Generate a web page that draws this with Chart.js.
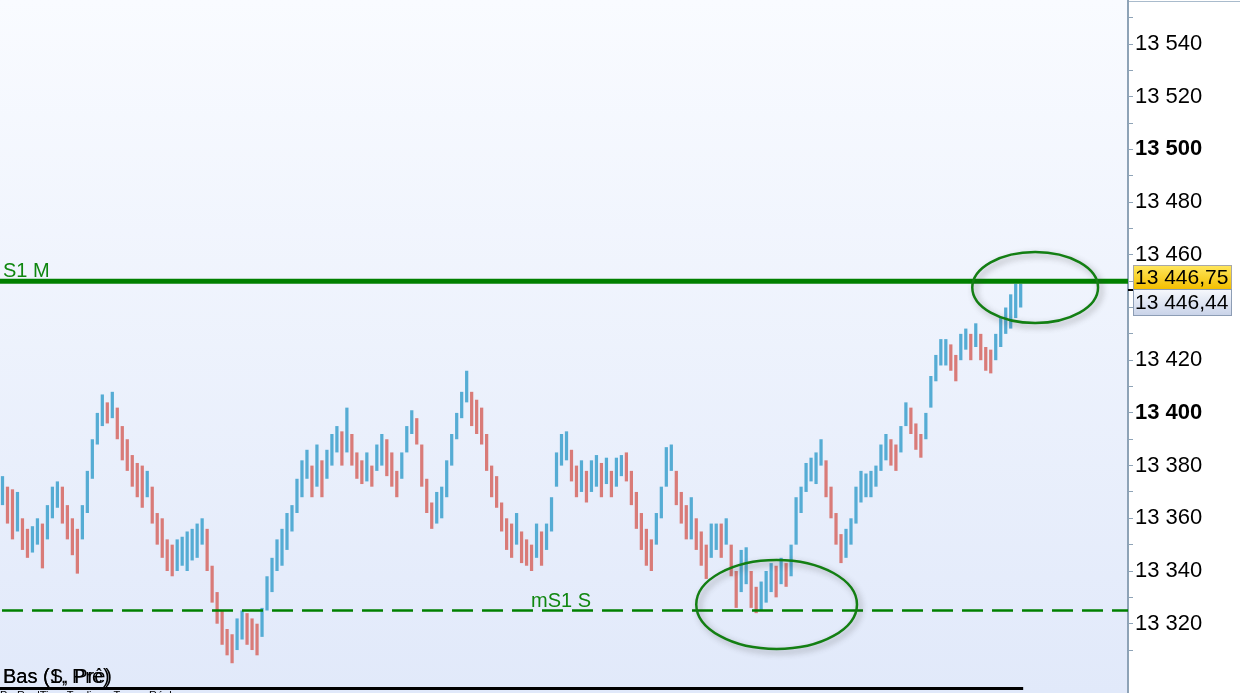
<!DOCTYPE html>
<html>
<head>
<meta charset="utf-8">
<script src="https://cdn.jsdelivr.net/npm/chart.js@4.4.1/dist/chart.umd.min.js"></script>
<style>
html,body{margin:0;padding:0;background:#fff;}
#wrap{width:1240px;height:693px;position:relative;}
</style>
</head>
<body>
<div id="wrap"><canvas id="c"></canvas></div>
<script>
// ---- data ----
const lows = [
13365,13358,13352,13355,13348,13345,13347,13350,13341,13352,
13360,13364,13358,13352,13346,13339,13352,13362,13375,13388,
13395,13396,13398,13390,13382,13378,13372,13368,13364,13368,
13358,13350,13345,13340,13338,13340,13342,13340,13344,13345,
13350,13340,13328,13320,13312,13308,13305,13310,13314,13312,
13310,13308,13315,13325,13332,13340,13342,13348,13355,13362,
13368,13375,13368,13372,13368,13375,13380,13385,13380,13385,
13380,13375,13373,13374,13372,13378,13380,13376,13372,13368,
13375,13385,13392,13388,13372,13362,13356,13358,13360,13368,
13380,13390,13398,13404,13395,13392,13388,13378,13368,13364,
13355,13348,13345,13350,13343,13342,13340,13345,13342,13348,
13355,13372,13380,13382,13374,13368,13370,13366,13370,13372,
13368,13373,13368,13372,13376,13374,13365,13356,13348,13342,
13340,13350,13360,13372,13378,13365,13358,13352,13352,13348,
13342,13337,13345,13348,13345,13350,13338,13326,13332,13335,
13326,13324,13325,13328,13332,13330,13335,13334,13338,13350,
13362,13370,13374,13373,13380,13368,13360,13350,13343,13345,
13350,13358,13366,13368,13368,13372,13378,13382,13380,13378,
13385,13395,13392,13386,13383,13390,13402,13412,13418,13418,
13416,13412,13420,13424,13420,13425,13420,13416,13415,13420,
13425,13430,13432,13436,13440];
const highs = [
13376,13372,13371,13370,13360,13356,13357,13360,13358,13365,
13372,13374,13372,13365,13360,13356,13365,13378,13390,13400,
13407,13404,13408,13402,13395,13390,13384,13381,13380,13378,
13372,13362,13360,13352,13350,13352,13353,13355,13356,13358,
13360,13356,13342,13332,13325,13318,13316,13322,13325,13324,
13322,13320,13326,13338,13345,13352,13356,13362,13365,13375,
13382,13386,13380,13388,13382,13386,13392,13395,13393,13402,
13392,13385,13382,13385,13380,13388,13392,13390,13385,13378,
13385,13395,13401,13398,13388,13375,13366,13370,13372,13382,
13392,13400,13408,13416,13408,13405,13402,13392,13380,13376,
13366,13360,13358,13362,13355,13352,13350,13358,13355,13358,
13368,13385,13392,13393,13386,13380,13382,13378,13382,13384,
13381,13383,13378,13383,13384,13385,13378,13370,13362,13356,
13352,13362,13372,13387,13388,13378,13370,13365,13368,13360,
13355,13350,13358,13358,13358,13360,13350,13340,13348,13349,
13340,13334,13336,13340,13343,13342,13345,13343,13350,13368,
13372,13381,13383,13385,13390,13382,13372,13362,13354,13356,
13360,13372,13378,13377,13378,13380,13388,13392,13390,13388,
13395,13404,13402,13396,13392,13400,13414,13422,13428,13428,
13426,13422,13430,13432,13430,13434,13430,13425,13424,13430,
13436,13440,13445,13449,13449];
const yTicks = [13310,13320,13330,13340,13350,13360,13370,13380,13390,13400,
                13410,13420,13430,13440,13450,13460,13470,13480,13490,13500,
                13510,13520,13530,13540,13550];
const slotCount = 226;           // number of bar slots across the plot
const categories = Array.from({length: slotCount}, (_, i) => String(i));
const resistance = 13450;        // "S1 M"
const support = 13325;           // "mS1 S"
const lastPrice = 13446.75;
const otherPrice = 13446.44;
const yMin = 13293.7, yMax = 13556.7;
const ellipses = [
  {idx: 206.9, value: 13447.6, rIdx: 12.6, rVal: 13.5},
  {idx: 155.1, value: 13327.3, rIdx: 16.1, rVal: 16.9}
];

const bars = lows.map((l, i) => [l, highs[i]]);
const mids = lows.map((l, i) => (l + highs[i]) / 2);
const UP = '#55acd4', DOWN = '#d97b78';
const barColors = mids.map((m, i) => (i === 0 || m >= mids[i - 1]) ? UP : DOWN);

const fmt = v => String(v).replace(/\B(?=(\d{3})+(?!\d))/g, ' ');
const fmtPrice = v => { const [i, d] = v.toFixed(2).split('.'); return fmt(i) + ',' + d; };
const FONT = "'Liberation Sans', Arial, sans-serif";

const decor = {
  id: 'decor',
  beforeDraw(chart) {
    const {ctx, chartArea: a} = chart;
    ctx.save();
    ctx.fillStyle = '#ffffff';
    ctx.fillRect(0, 0, chart.width, chart.height);
    const g = ctx.createLinearGradient(0, a.top, 0, a.bottom);
    g.addColorStop(0, '#f9fbff');
    g.addColorStop(1, '#e1e9fa');
    ctx.fillStyle = g;
    ctx.fillRect(a.left, a.top, a.right - a.left, a.bottom - a.top);
    ctx.strokeStyle = '#a9bbcc';
    ctx.lineWidth = 1;
    ctx.beginPath(); ctx.moveTo(a.right, 1.5); ctx.lineTo(chart.width, 1.5); ctx.stroke();
    ctx.restore();
  },
  afterDatasetsDraw(chart) {
    const {ctx, chartArea: a, scales: {x, y}} = chart;
    ctx.save();
    const yr = y.getPixelForValue(resistance);
    ctx.strokeStyle = '#008000';
    ctx.lineWidth = 5;
    ctx.beginPath(); ctx.moveTo(a.left, yr); ctx.lineTo(a.right, yr); ctx.stroke();
    const ys = y.getPixelForValue(support);
    ctx.lineWidth = 2.5;
    ctx.setLineDash([21, 9]);
    ctx.beginPath(); ctx.moveTo(a.left + 2, ys); ctx.lineTo(a.right, ys); ctx.stroke();
    ctx.setLineDash([]);
    ctx.fillStyle = '#0f870f';
    ctx.font = '20px ' + FONT;
    ctx.textBaseline = 'alphabetic';
    ctx.fillText('S1 M', a.left + 3, yr - 4);
    ctx.fillText('mS1 S', a.left + 531, ys - 4);
    ellipses.forEach(e => {
      const cx = x.getPixelForValue(e.idx), cy = y.getPixelForValue(e.value);
      const rx = x.getPixelForValue(e.idx + e.rIdx) - cx;
      const ry = cy - y.getPixelForValue(e.value + e.rVal);
      ctx.save();
      ctx.shadowColor = 'rgba(60,60,60,0.45)';
      ctx.shadowBlur = 6;
      ctx.shadowOffsetX = 3;
      ctx.shadowOffsetY = 3;
      ctx.strokeStyle = '#137f13';
      ctx.lineWidth = 2.5;
      ctx.beginPath(); ctx.ellipse(cx, cy, rx, ry, 0, 0, Math.PI * 2); ctx.stroke();
      ctx.restore();
    });
    ctx.strokeStyle = '#000';
    ctx.lineWidth = 3;
    ctx.beginPath(); ctx.moveTo(0, 688.5); ctx.lineTo(x.getPixelForValue(204.5), 688.5); ctx.stroke();
    ctx.fillStyle = '#000';
    ctx.font = '20px ' + FONT;
    ctx.fillText('Bas (1, Pré)', 3, 683);
    ctx.fillText('Bas (S, Prè)', 3, 683);
    ctx.font = '11px ' + FONT;
    ctx.textBaseline = 'top';
    ctx.fillText('ProRealTime Trading - Temps Réel', 0, 690);
    ctx.restore();
  },
  afterDraw(chart) {
    const {ctx, chartArea: a, scales: {y}} = chart;
    ctx.save();
    const p = Math.round(y.getPixelForValue(lastPrice));
    ctx.strokeStyle = '#000'; ctx.lineWidth = 2;
    ctx.beginPath(); ctx.moveTo(a.right, p); ctx.lineTo(a.right + 6, p); ctx.stroke();
    const bx = a.right + 5, bw = 98;
    let g = ctx.createLinearGradient(0, p - 25, 0, p - 1);
    g.addColorStop(0, '#ffe75e'); g.addColorStop(1, '#f3bf00');
    ctx.fillStyle = g; ctx.fillRect(bx, p - 25, bw, 24);
    ctx.strokeStyle = '#a8a8a8'; ctx.lineWidth = 1;
    ctx.strokeRect(bx + 0.5, p - 24.5, bw, 24);
    g = ctx.createLinearGradient(0, p - 1, 0, p + 26);
    g.addColorStop(0, '#f7f9fd'); g.addColorStop(1, '#c8d2e8');
    ctx.fillStyle = g; ctx.fillRect(bx, p - 1, bw, 27);
    ctx.strokeStyle = '#8d9db5';
    ctx.strokeRect(bx + 0.5, p - 0.5, bw, 26);
    ctx.fillStyle = '#000';
    ctx.font = '21px ' + FONT;
    ctx.textBaseline = 'middle';
    ctx.fillText(fmtPrice(lastPrice), bx + 2, p - 12);
    ctx.fillText(fmtPrice(otherPrice), bx + 2, p + 13);
    ctx.restore();
  }
};

new Chart(document.getElementById('c'), {
  type: 'bar',
  data: {
    labels: categories,
    datasets: [{
      data: bars,
      backgroundColor: barColors,
      borderWidth: 0,
      barPercentage: 0.65,
      categoryPercentage: 1
    }]
  },
  options: {
    responsive: true,
    maintainAspectRatio: false,
    animation: false,
    layout: {padding: 0},
    plugins: {legend: {display: false}, tooltip: {enabled: false}},
    scales: {
      x: {display: false, offset: true},
      y: {
        position: 'right',
        min: yMin, max: yMax,
        afterBuildTicks: s => { s.ticks = yTicks.map(v => ({value: v})); },
        afterFit: s => { s.width = 112; s.paddingTop = 0; s.paddingBottom = 0; },
        border: {display: true, color: '#8ea3b7', width: 2},
        grid: {drawOnChartArea: false, drawTicks: true, tickLength: 5, color: '#8ea3b7', lineWidth: 1},
        ticks: {
          autoSkip: false,
          padding: 2,
          color: '#000',
          font: c => ({family: FONT, size: 22, weight: (c.tick && c.tick.value % 100 === 0) ? 'bold' : 'normal'}),
          callback: v => (v % 20 === 0 ? fmt(v) : '')
        }
      }
    }
  },
  plugins: [decor]
});
</script>
</body>
</html>
